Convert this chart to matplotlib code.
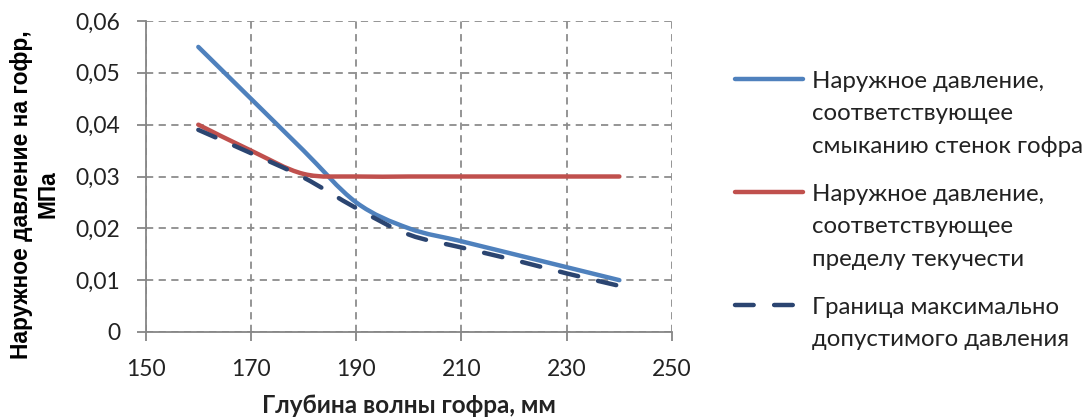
import numpy as np
import matplotlib
matplotlib.use('Agg')
import matplotlib.pyplot as plt
from matplotlib.path import Path
from matplotlib.patches import PathPatch
from matplotlib.lines import Line2D
from matplotlib.ticker import FuncFormatter

# data
depth = [160, 170, 180, 190, 200, 210, 220, 230, 240]
p_close = [0.055, 0.045, 0.035, 0.025, 0.020, 0.0175, 0.015, 0.0125, 0.010]
p_yield = [0.040, 0.035, 0.0305, 0.030, 0.030, 0.030, 0.030, 0.030, 0.030]
p_limit = [0.039, 0.0345, 0.0298, 0.0239, 0.0188, 0.0163, 0.0139, 0.0113, 0.0089]

labels = [['Наружное давление,', 'соответствующее', 'смыканию стенок гофра'],
          ['Наружное давление,', 'соответствующее', 'пределу текучести'],
          ['Граница максимально', 'допустимого давления']]
colors = ['#4F81BD', '#C0504D', '#2B4571']
styles = ['-', '-', (0, (4.2, 4.6))]

BODY = ['Lato', 'DejaVu Sans']
W, H = 1086, 418


def smooth_path(xs, ys):
    # Excel-style smoothed line: cubic Bezier through the points
    pts = np.column_stack([xs, ys]).astype(float)
    n = len(pts)
    verts = [pts[0]]
    codes = [Path.MOVETO]
    for i in range(n - 1):
        p0 = pts[i - 1] if i > 0 else pts[i]
        p1 = pts[i]
        p2 = pts[i + 1]
        p3 = pts[i + 2] if i + 2 < n else pts[i + 1]
        c1 = p1 + (p2 - p0) / 6.0
        c2 = p2 - (p3 - p1) / 6.0
        verts += [c1, c2, p2]
        codes += [Path.CURVE4] * 3
    return Path(verts, codes)


fig = plt.figure(figsize=(W / 100, H / 100), dpi=100)
ax = fig.add_axes([145.7 / W, 1 - 332 / H, (672 - 145.7) / W, (332 - 21) / H])

for ys, c, ls in zip([p_close, p_yield, p_limit], colors, styles):
    patch = PathPatch(smooth_path(depth, ys), facecolor='none', edgecolor=c,
                      lw=3.2, linestyle=ls, capstyle='round', joinstyle='round',
                      zorder=3)
    ax.add_patch(patch)

ax.set_xlim(150, 250)
ax.set_ylim(0, 0.06)
ax.set_xticks(np.arange(150, 251, 20))
ax.set_yticks(np.arange(0, 0.0601, 0.01))
ax.yaxis.set_major_formatter(FuncFormatter(
    lambda v, p: '0' if abs(v) < 1e-9 else ('%.2f' % v).replace('.', ',')))

ax.grid(True, color='#8C8C8C', linestyle=(0, (4, 3)), lw=1.3)
ax.set_axisbelow(True)
for s in ['top', 'right']:
    ax.spines[s].set_visible(False)
for s in ['left', 'bottom']:
    ax.spines[s].set_color('#868686')
    ax.spines[s].set_linewidth(1.3)
ax.tick_params(axis='both', direction='out', length=6.5, width=1.3,
               color='#868686', labelsize=16.5, labelcolor='#222222')
ax.tick_params(axis='y', pad=12)
ax.tick_params(axis='x', pad=13)
for lab in ax.get_xticklabels() + ax.get_yticklabels():
    lab.set_family(BODY)

fig.text(35 / W, 1 - 194.5 / H, 'Наружное давление на гофр,\nМПа', rotation=90,
         ha='center', va='center', multialignment='center',
         fontsize=16.4, fontweight='bold', family=['Liberation Sans', 'DejaVu Sans'],
         linespacing=1.2)
fig.text(409 / W, 1 - 413 / H, 'Глубина волны гофра, мм', ha='center', va='baseline',
         fontsize=17.5, fontweight='bold', family=BODY, color='#222222')

# legend drawn by hand: handle aligned with first text line
first_rows = [79, 191.7, 305]
pitch = 32.5
for lines, c, ls, yp in zip(labels, colors, styles, first_rows):
    yf = 1 - yp / H
    fig.add_artist(Line2D([735 / W, 803 / W], [yf, yf], transform=fig.transFigure,
                          color=c, lw=3.2, linestyle=ls, solid_capstyle='round',
                          dash_capstyle='round'))
    for k, txt in enumerate(lines):
        fig.text(812 / W, 1 - (yp + 9 + k * pitch) / H, txt, ha='left', va='baseline',
                 fontsize=17.3, family=BODY, color='#222222')

fig.savefig('out.png', dpi=100)
